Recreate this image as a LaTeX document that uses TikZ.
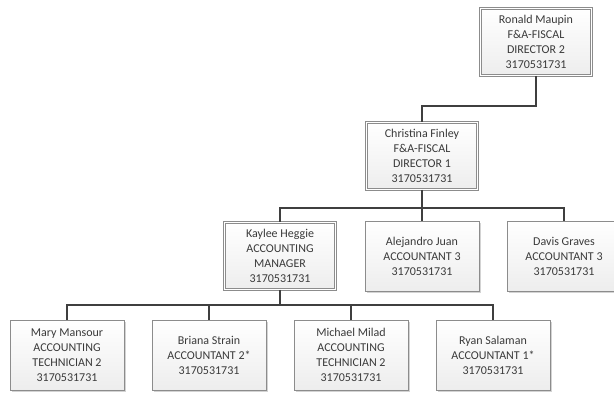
\documentclass[tikz,border=0pt]{standalone}
\usepackage{fontspec}
\setmainfont{Carlito}
\usetikzlibrary{shadows}
\definecolor{boxline}{HTML}{8C8C8C}
\definecolor{wirecol}{HTML}{3F3F3F}
\definecolor{txtcol}{HTML}{3A3A3A}

\begin{document}
\begin{tikzpicture}[x=1pt, y=-1pt,
    person/.style={draw=boxline, line width=0.8pt, top color=white, bottom color=gray!14,
        minimum width=114pt, minimum height=70pt, align=center, text=txtcol, inner sep=2pt,
        font=\fontsize{12}{15}\selectfont,
        drop shadow={shadow xshift=1.6pt, shadow yshift=-1.6pt, opacity=0.35, fill=gray}},
    head/.style={person, double=white, double distance=1.6pt, minimum width=111pt, minimum height=67pt},
    wire/.style={draw=wirecol, line width=1.4pt}]
    \clip (0, 0) rectangle (614, 394);

    % top of the chart
    \node[head] (ronald) at (536, 42) {Ronald Maupin\\F\&A-FISCAL\\DIRECTOR 2\\3170531731};
    \node[head] (christina) at (422, 156) {Christina Finley\\F\&A-FISCAL\\DIRECTOR 1\\3170531731};

    % third row
    \node[head] (kaylee) at (280, 256) {Kaylee Heggie\\ACCOUNTING\\MANAGER\\3170531731};
    \node[person] (alejandro) at (422, 256) {Alejandro Juan\\ACCOUNTANT 3\\3170531731};
    \node[person] (davis) at (564, 256) {Davis Graves\\ACCOUNTANT 3\\3170531731};

    % bottom row
    \node[person] (mary) at (67, 355) {Mary Mansour\\ACCOUNTING\\TECHNICIAN 2\\3170531731};
    \node[person] (briana) at (209, 355) {Briana Strain\\ACCOUNTANT 2*\\3170531731};
    \node[person] (michael) at (351, 355) {Michael Milad\\ACCOUNTING\\TECHNICIAN 2\\3170531731};
    \node[person] (ryan) at (493, 355) {Ryan Salaman\\ACCOUNTANT 1*\\3170531731};

    \coordinate (bus0) at (536, 106);
    \coordinate (bus1) at (422, 208);
    \coordinate (bus2) at (280, 305);

    \draw[wire] (ronald.south) -- (bus0) -| (christina.north);
    \draw[wire] (christina.south) -- (bus1);
    \foreach \n in {kaylee, alejandro, davis}
        \draw[wire] (bus1) -| (\n.north);
    \draw[wire] (kaylee.south) -- (bus2);
    \foreach \n in {mary, briana, michael, ryan}
        \draw[wire] (bus2) -| (\n.north);
\end{tikzpicture}
\end{document}
